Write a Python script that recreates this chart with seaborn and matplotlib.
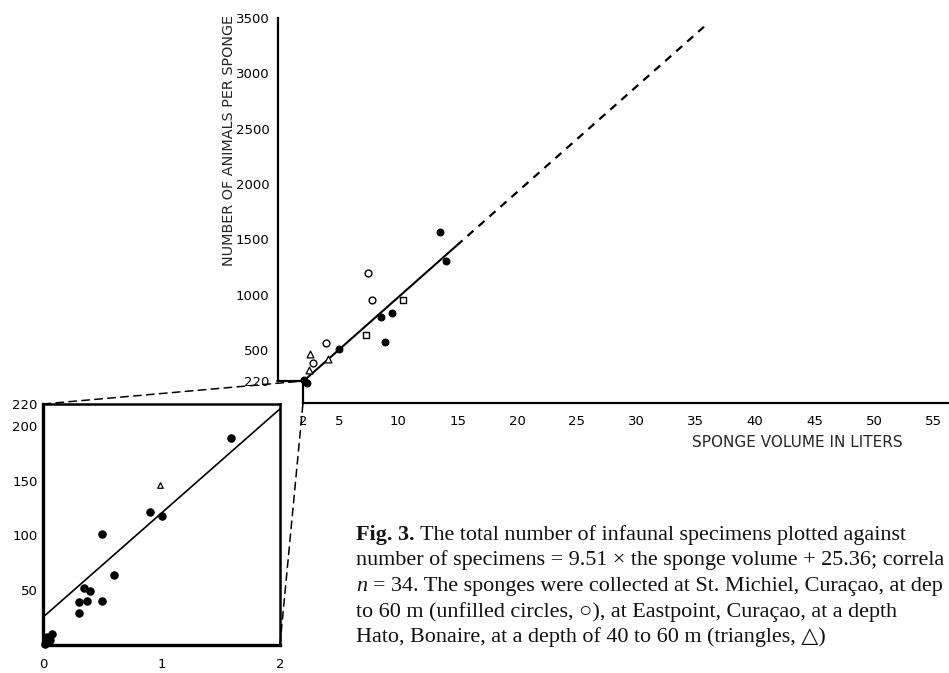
import numpy as np
import pandas as pd
import matplotlib
matplotlib.use("Agg")
import matplotlib.pyplot as plt
import seaborn as sns
from matplotlib import transforms
from matplotlib.patches import ConnectionPatch

# ---- data: sponge volume (liters) and number of animals per sponge ----
filled_volume = [2.1, 2.3, 5.0, 8.55, 8.9, 9.48, 13.5, 14.0,
                 1.59, 1.0, 0.90, 0.60, 0.50, 0.50, 0.40, 0.37, 0.35, 0.30, 0.30,
                 0.08, 0.06, 0.04, 0.03, 0.02]
filled_count = [228, 205, 509, 798, 572, 834, 1566, 1304,
                189, 118, 121, 64, 101, 40, 49, 40, 52, 39.5, 29,
                10, 5, 3, 7, 1]
open_volume = [2.82, 3.9, 7.8, 7.46]
open_count = [380, 560, 952, 1196]
square_volume = [7.3, 10.4]
square_count = [638, 952]
triangle_volume = [0.99, 2.53, 2.59, 4.13]
triangle_count = [146, 319, 464, 416]

# regression: specimens = 9.51 x volume (dl) + 25.36
SLOPE_PER_DL = 9.51
INTERCEPT = 25.36
SOLID_END = 14.9      # liters, end of the fitted range
DASH_END = 35.7       # liters, extrapolation

main_xticks = [2, 5, 10, 15, 20, 25, 30, 35, 40, 45, 50, 55]
main_yticks = [220, 500, 1000, 1500, 2000, 2500, 3000, 3500]
inset_xticks = [0, 1, 2]
inset_yticks = [50, 100, 150, 200, 220]

caption_lines = [
    [("Fig. 3.", "bold"), ("The total number of infaunal specimens plotted against", "normal")],
    [("number of specimens = 9.51 \u00d7 the sponge volume + 25.36; correla", "normal")],
    [("n", "italic"), ("= 34. The sponges were collected at St. Michiel, Cura\u00e7ao, at dep", "normal")],
    [("to 60 m (unfilled circles, \u25cb), at Eastpoint, Cura\u00e7ao, at a depth", "normal")],
    [("Hato, Bonaire, at a depth of 40 to 60 m (triangles, \u25b3)", "normal")],
]

frames = []
for grp, v, c in [("filled", filled_volume, filled_count),
                  ("open", open_volume, open_count),
                  ("square", square_volume, square_count),
                  ("triangle", triangle_volume, triangle_count)]:
    frames.append(pd.DataFrame({"volume": v, "count": c, "group": grp}))
df = pd.concat(frames, ignore_index=True)


def fit(vol):
    return SLOPE_PER_DL * (10 * np.asarray(vol, dtype=float)) + INTERCEPT


sns.set_style("white")
plt.rcParams["font.family"] = ["DejaVu Sans"]
TICK_SIZE = 9.5

W, H = 949, 673
fig = plt.figure(figsize=(W / 100, H / 100), dpi=100)


def px_axes(left, top, right, bottom):
    return fig.add_axes([left / W, 1 - bottom / H, (right - left) / W, (bottom - top) / H])


STYLES = {
    "filled": dict(marker="o", color="black", edgecolor="black", linewidth=0.8),
    "open": dict(marker="o", color="white", edgecolor="black", linewidth=1.0),
    "square": dict(marker="s", color="white", edgecolor="black", linewidth=1.0),
    "triangle": dict(marker="^", color="white", edgecolor="black", linewidth=0.9),
}

# ---------------- main panel ----------------
ax = px_axes(303, 0, 949, 381)
ax.set_xlim(2, 2 + 646 / 11.9)
ax.set_ylim(220, 220 + 381 / 0.1107)

main = df[df["volume"] >= 2]
for grp, st in STYLES.items():
    sub = main[main["group"] == grp]
    sns.scatterplot(data=sub, x="volume", y="count", ax=ax, s=24, clip_on=False,
                    legend=False, zorder=3, **st)

xs = np.array([2, SOLID_END])
ax.plot(xs, fit(xs), color="black", lw=1.5, solid_capstyle="butt", clip_on=False)
xd = np.array([SOLID_END, DASH_END])
ax.plot(xd, fit(xd), color="black", lw=1.6, linestyle=(0, (3.6, 3.0)), clip_on=False)

for side in ("top", "right"):
    ax.spines[side].set_visible(False)
LEFT_OFF, BOTTOM_OFF = 25 * 0.72, 22 * 0.72
ax.spines["left"].set_position(("outward", LEFT_OFF))
ax.spines["bottom"].set_position(("outward", BOTTOM_OFF))
ax.spines["left"].set_bounds(220, 3500)
ax.spines["bottom"].set_bounds(2, ax.get_xlim()[1])
for side in ("left", "bottom"):
    ax.spines[side].set_linewidth(1.6)
    ax.spines[side].set_color("black")

ax.set_xticks(main_xticks)
ax.set_xticklabels([str(t) for t in main_xticks])
ax.set_xticks(np.arange(3, 57), minor=True)
ax.set_yticks(main_yticks)
ax.set_yticklabels([str(t) for t in main_yticks])
ax.set_yticks([v for v in range(300, 3500, 100) if v % 500], minor=True)
ax.tick_params(axis="both", which="major", length=4.5, width=1.1, direction="out",
               labelsize=TICK_SIZE, color="black", labelcolor="black")
ax.tick_params(axis="both", which="minor", length=3, width=0.9, direction="out", color="black")
ax.tick_params(axis="x", pad=4)
ax.tick_params(axis="y", pad=1.5)

# corner connectors joining the offset spines to the (2, 220) origin
ax.annotate("", xy=(2, 220), xytext=(-LEFT_OFF - 0.5, 0), textcoords="offset points",
            arrowprops=dict(arrowstyle="-", lw=1.6, color="black", shrinkA=0, shrinkB=0))
ax.annotate("", xy=(2, 220), xytext=(0, -BOTTOM_OFF - 0.5), textcoords="offset points",
            arrowprops=dict(arrowstyle="-", lw=1.6, color="black", shrinkA=0, shrinkB=0))

ax.set_xlabel("SPONGE VOLUME IN LITERS", fontsize=11)
ax.xaxis.set_label_coords((797 - 303) / 646, (381 - 435) / 381)
ax.set_ylabel("NUMBER OF ANIMALS PER SPONGE", fontsize=10.4)
ax.yaxis.set_label_coords((236 - 303) / 646, (381 - 140) / 381)

# ---------------- inset: 0-2 liters ----------------
axin = px_axes(43, 404, 280, 645)
axin.set_xlim(0, 2)
axin.set_ylim(0, 220)
inset = df[df["volume"] <= 2]
for grp, st in STYLES.items():
    sub = inset[inset["group"] == grp]
    size = 28 if grp == "filled" else 16
    sns.scatterplot(data=sub, x="volume", y="count", ax=axin, s=size, clip_on=False,
                    legend=False, zorder=3, **st)
xi = np.array([0, 2])
axin.plot(xi, fit(xi), color="black", lw=1.2)
for side in axin.spines.values():
    side.set_visible(True)
    side.set_linewidth(1.8)
    side.set_color("black")
axin.spines["left"].set_linewidth(2.4)
axin.spines["bottom"].set_linewidth(2.4)
axin.set_xticks(inset_xticks)
axin.set_xticklabels([str(t) for t in inset_xticks])
axin.set_yticks(inset_yticks)
axin.set_yticklabels([str(t) for t in inset_yticks])
axin.tick_params(axis="both", length=0, labelsize=TICK_SIZE, labelcolor="black")
axin.tick_params(axis="x", pad=9)
axin.tick_params(axis="y", pad=4)
axin.set_xlabel("")
axin.set_ylabel("")

# dashed zoom connectors from the inset to the main panel origin
dash = dict(color="black", lw=1.1, linestyle=(0, (5, 3.5)))
fig.add_artist(ConnectionPatch(xyA=(0, 220), coordsA=axin.transData,
                               xyB=(2, 220), coordsB=ax.transData, **dash))
below = transforms.offset_copy(ax.transData, fig=fig, x=0, y=-BOTTOM_OFF, units="points")
fig.add_artist(ConnectionPatch(xyA=(2, 0), coordsA=axin.transData,
                               xyB=(2, 220), coordsB=below, **dash))

# ---------------- caption ----------------
CAP_FAMILY = ["Liberation Serif", "DejaVu Serif"]
CAP_X = 356
CAP_RIGHT = 946          # widest line must end inside the figure
baselines = [540, 565.5, 591, 616.5, 642]
renderer = fig.canvas.get_renderer()


def cap_kw(style, size):
    kw = dict(fontsize=size, family=CAP_FAMILY, va="baseline", ha="left",
              transform=fig.transFigure, color="#111111")
    if style == "bold":
        kw["fontweight"] = "bold"
    if style == "italic":
        kw["fontstyle"] = "italic"
    return kw


def draw_line(x0, yb, parts, size):
    space_px = 0.25 * size * 100 / 72
    x = x0
    arts = []
    for txt, style in parts:
        t = fig.text(x / W, 1 - yb / H, txt, **cap_kw(style, size))
        arts.append(t)
        x += t.get_window_extent(renderer).width + space_px
    return arts, x - space_px


# size the caption so that its widest line fits the page width
probe_size = 16.0
widest = 0
for parts, yb in zip(caption_lines, baselines):
    arts, end = draw_line(CAP_X, yb, parts, probe_size)
    widest = max(widest, end - CAP_X)
    for a in arts:
        a.remove()
cap_size = probe_size * (CAP_RIGHT - CAP_X) / widest
for parts, yb in zip(caption_lines, baselines):
    draw_line(CAP_X, yb, parts, cap_size)

fig.savefig("out.png", dpi=100)
